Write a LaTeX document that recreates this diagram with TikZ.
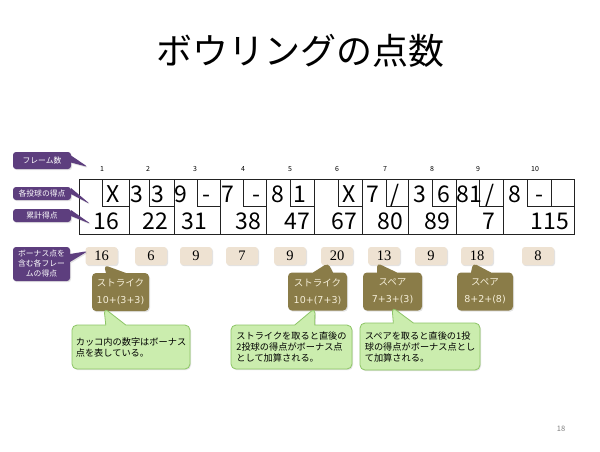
\documentclass[tikz,border=0pt]{standalone}
\usepackage{fontspec}
\setmainfont{Noto Sans CJK JP}
\newfontfamily\jp{Noto Sans CJK JP}
\newfontfamily\sernum{Liberation Serif}
\newfontfamily\verd{DejaVu Sans}
\usetikzlibrary{shapes.callouts,shadows}
\definecolor{purp}{HTML}{5D3E7E}
\definecolor{olivec}{HTML}{8A7C48}
\definecolor{beigec}{HTML}{EEE2D2}
\definecolor{lgreen}{HTML}{CBEDAE}
\definecolor{dgreen}{HTML}{8DC566}
\definecolor{creamc}{HTML}{F6EFD9}
\definecolor{tline}{HTML}{222222}
\begin{document}
\begin{tikzpicture}[x=1pt,y=-1pt,
  tabline/.style={draw=tline,line width=0.8pt},
  tnum/.style={anchor=base,inner sep=0pt,font=\jp\fontsize{23}{23}\selectfont},
  fnum/.style={anchor=base,inner sep=0pt,font=\jp\fontsize{7}{7}\selectfont},
  softshadow/.style={drop shadow={opacity=0.22,shadow xshift=1pt,shadow yshift=-1.2pt}},
  purplebox/.style={rectangle callout,fill=purp,rounded corners=3pt,text=white,
    font=\jp\fontsize{7.8}{10}\selectfont,align=center,inner sep=1pt,
    minimum width=58pt,callout pointer width=6pt,softshadow},
  bonusbox/.style={fill=beigec,rounded corners=3pt,minimum width=32pt,minimum height=18pt,
    inner sep=0pt,font=\sernum\fontsize{14.5}{14.5}\selectfont,softshadow},
  olivebox/.style={rectangle callout,fill=olivec,rounded corners=4pt,text=creamc,
    font=\fontsize{9.5}{17}\selectfont,align=center,inner sep=1pt,
    minimum height=38pt,callout pointer width=20pt,softshadow},
  greenbox/.style={rectangle callout,fill=lgreen,draw=dgreen,line width=0.8pt,rounded corners=5pt,
    text=black,font=\jp\fontsize{9.2}{11}\selectfont,align=left,inner sep=2pt,
    minimum width=119pt,minimum height=45pt,callout pointer width=20pt,softshadow}]
\useasboundingbox (0,0) rectangle (600,451);
\fill[white] (0,0) rectangle (600,451);

% title
\node[font=\jp\fontsize{36}{36}\selectfont,inner sep=0pt] (title) at (300,51) {ボウリングの点数};

% frame numbers
\node[fnum] (f1) at (102,171) {1};
\node[fnum] (f2) at (148,171) {2};
\node[fnum] (f3) at (195,171) {3};
\node[fnum] (f4) at (243,171) {4};
\node[fnum] (f5) at (290,171) {5};
\node[fnum] (f6) at (337,171) {6};
\node[fnum] (f7) at (385,171) {7};
\node[fnum] (f8) at (432,171) {8};
\node[fnum] (f9) at (478,171) {9};
\node[fnum] (f10) at (535,171) {10};

% score table
\draw[tabline] (79,179) rectangle (574,234);
\foreach \b in {129,174,220,266,314,362,408,456,503}
  \draw[tabline] (\b,179) -- (\b,234);
\foreach \i/\r in {102/129,149/174,197/220,243/266,290/314,338/362,386/408,432/456,479/503}
  \draw[tabline] (\i,179) |- (\r,206);
\draw[tabline] (527,179) |- (574,206);
\draw[tabline] (551,179) -- (551,206);

% throws
\node[tnum] (s1)  at (113,202) {X};
\node[tnum] (s2)  at (137,202) {3};
\node[tnum] (s3)  at (157.5,202) {3};
\node[tnum] (s4)  at (181,202) {9};
\node[tnum] (s5)  at (206.5,202) {-};
\node[tnum] (s6)  at (228,202) {7};
\node[tnum] (s7)  at (256,202) {-};
\node[tnum] (s8)  at (278,202) {8};
\node[tnum] (s9)  at (300,202) {1};
\node[tnum] (s10) at (349,202) {X};
\node[tnum] (s11) at (372.5,202) {7};
\node[tnum] (s12) at (395,202) {/};
\node[tnum] (s13) at (420,202) {3};
\node[tnum] (s14) at (444,202) {6};
\node[tnum] (s15) at (469,202) {81};
\node[tnum] (s16) at (490,202) {/};
\node[tnum] (s17) at (514.5,202) {8};
\node[tnum] (s18) at (539,202) {-};

% cumulative
\node[tnum] (c1)  at (106.5,229) {16};
\node[tnum] (c2)  at (155.5,229) {22};
\node[tnum] (c3)  at (194.5,229) {31};
\node[tnum] (c4)  at (248.5,229) {38};
\node[tnum] (c5)  at (297,229) {47};
\node[tnum] (c6)  at (344,229) {67};
\node[tnum] (c7)  at (390,229) {80};
\node[tnum] (c8)  at (437.5,229) {89};
\node[tnum] (c9)  at (489,229) {7};
\node[tnum] (c10) at (550,229) {115};

% bonus boxes
\node[bonusbox] (b1)  at (101.5,256) {16};
\node[bonusbox] (b2)  at (151,256) {6};
\node[bonusbox] (b3)  at (196,256) {9};
\node[bonusbox] (b4)  at (242,256) {7};
\node[bonusbox] (b5)  at (290,256) {9};
\node[bonusbox] (b6)  at (337,256) {20};
\node[bonusbox] (b7)  at (384,256) {13};
\node[bonusbox] (b8)  at (431,256) {9};
\node[bonusbox] (b9)  at (477,256) {18};
\node[bonusbox] (b10) at (538,256) {8};

% purple labels
\node[purplebox,minimum height=17pt,callout pointer width=7pt,callout absolute pointer={(88,167)}] (l1) at (42,160.5) {フレーム数};
\node[purplebox,minimum height=13pt,callout absolute pointer={(90,204)}] (l2) at (42,193.5) {各投球の得点};
\node[purplebox,minimum height=13pt,callout absolute pointer={(91,224)}] (l3) at (42,215.5) {累計得点};
\node[purplebox,minimum width=57pt,minimum height=34pt,callout pointer width=8pt,callout absolute pointer={(88,251)}] (l4) at (41.5,264) {ボーナス点を\\含む各フレー\\ムの得点};

% olive callouts
\node[olivebox,minimum width=57pt,callout absolute pointer={(104,265)}] (o1) at (120.5,292) {ストライク\\{\verd 10+(3+3)}};
\node[olivebox,minimum width=59pt,callout absolute pointer={(328,263)}] (o2) at (317.5,291.5) {ストライク\\{\verd 10+(7+3)}};
\node[olivebox,minimum width=59pt,callout absolute pointer={(377,263)}] (o3) at (392.5,291.5) {スペア\\{\verd 7+3+(3)}};
\node[olivebox,minimum width=56pt,callout absolute pointer={(473,263)}] (o4) at (485,291.5) {スペア\\{\verd 8+2+(8)}};

% green callouts
\node[greenbox,minimum width=118pt,minimum height=44pt,callout absolute pointer={(104,308)}] (g1) at (131,347) {カッコ内の数字はボーナス\\点を表している。};
\node[greenbox,minimum width=121pt,minimum height=44pt,callout absolute pointer={(315,308)}] (g2) at (291.5,347) {ストライクを取ると直後の\\2投球の得点がボーナス点\\として加算される。};
\node[greenbox,minimum width=120pt,minimum height=47pt,callout absolute pointer={(392,307)}] (g3) at (420,346.5) {スペアを取ると直後の1投\\球の得点がボーナス点とし\\て加算される。};

% page number
\node[font=\jp\fontsize{7.5}{7.5}\selectfont,text=gray,inner sep=0pt] (pg) at (561,429) {18};
\end{tikzpicture}
\end{document}
